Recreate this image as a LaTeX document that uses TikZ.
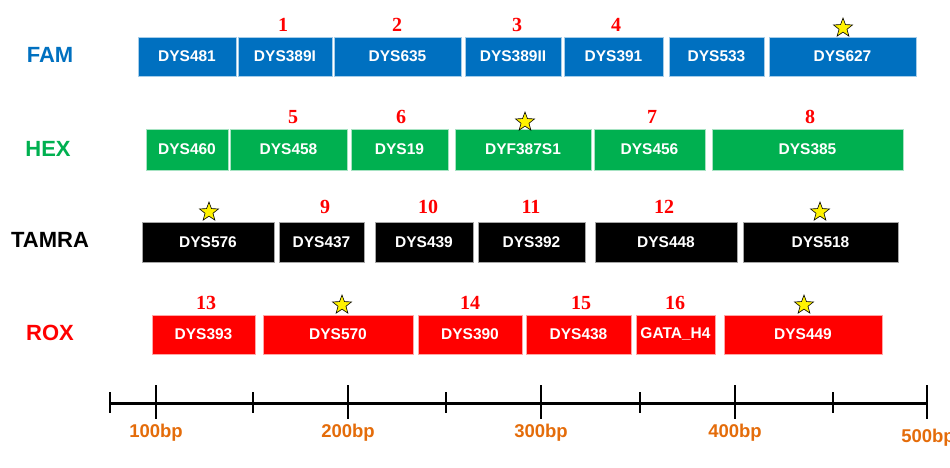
\documentclass[tikz,border=0pt]{standalone}
\usepackage{fontspec}
\setmainfont{Liberation Sans}
\newfontfamily\numfont{Liberation Serif}
\usetikzlibrary{shapes.geometric}
\definecolor{famblue}{HTML}{0070C0}
\definecolor{hexgreen}{HTML}{00B050}
\definecolor{roxred}{HTML}{FF0000}
\definecolor{bporange}{HTML}{E46C0A}
\begin{document}
\begin{tikzpicture}[x=1pt,y=-1pt]
			\tikzstyle{BOX}=[rectangle,inner sep=0pt,text=white,font=\fontsize{15.5}{18}\selectfont\bfseries,line width=0.8pt]
			\tikzstyle{FAM}=[BOX,fill=famblue,draw=famblue!35,minimum height=39pt]
			\tikzstyle{HEX}=[BOX,fill=hexgreen,draw=hexgreen!35,minimum height=41pt]
			\tikzstyle{TAM}=[BOX,fill=black,draw=black!35,minimum height=40pt]
			\tikzstyle{ROX}=[BOX,fill=roxred,draw=roxred!35,minimum height=39pt]
			\tikzstyle{DYE}=[font=\fontsize{22}{26}\selectfont\bfseries]
			\tikzstyle{NUM}=[text=roxred,font=\fontsize{20}{24}\selectfont\numfont\bfseries,inner sep=0pt]
			\tikzstyle{STAR}=[star,star points=5,star point ratio=2.4,fill=yellow,draw=black,line width=0.6pt,minimum size=20pt,inner sep=0pt]
			\tikzstyle{BP}=[text=bporange,font=\fontsize{18.5}{22}\selectfont\bfseries,inner sep=0pt]
			\useasboundingbox (0,0) rectangle (950,468);
			
			\begin{scope}
			\node[DYE,text=famblue] (fam) at (50,55) {FAM};
			\node[FAM,minimum width=98pt]  (dys481)   at (187,56.5)   {DYS481};
			\node[FAM,minimum width=94pt]  (dys389i)  at (285,56.5)   {DYS389I};
			\node[FAM,minimum width=127pt] (dys635)   at (397.5,56.5) {DYS635};
			\node[FAM,minimum width=96pt]  (dys389ii) at (513,56.5)   {DYS389II};
			\node[FAM,minimum width=99pt]  (dys391)   at (613.5,56.5) {DYS391};
			\node[FAM,minimum width=95pt]  (dys533)   at (716.5,56.5) {DYS533};
			\node[FAM,minimum width=147pt] (dys627)   at (842.5,56.5) {DYS627};
			\node[NUM] (n1) at (283,25) {1};
			\node[NUM] (n2) at (397,25) {2};
			\node[NUM] (n3) at (517,25) {3};
			\node[NUM] (n4) at (616,25) {4};
			\node[STAR] (s627) at (843,28) {};
			\end{scope}
			
			\begin{scope}
			\node[DYE,text=hexgreen] (hex) at (48,149) {HEX};
			\node[HEX,minimum width=82pt]  (dys460)   at (187,149.5)   {DYS460};
			\node[HEX,minimum width=117pt] (dys458)   at (288.5,149.5) {DYS458};
			\node[HEX,minimum width=97pt]  (dys19)    at (399.5,149.5) {DYS19};
			\node[HEX,minimum width=136pt] (dyf387s1) at (523,149.5)   {DYF387S1};
			\node[HEX,minimum width=111pt] (dys456)   at (649.5,149.5) {DYS456};
			\node[HEX,minimum width=191pt] (dys385)   at (807.5,149.5) {DYS385};
			\node[NUM] (n5) at (293,117) {5};
			\node[NUM] (n6) at (401,117) {6};
			\node[NUM] (n7) at (652,117) {7};
			\node[NUM] (n8) at (810,117) {8};
			\node[STAR] (s387) at (525,122) {};
			\end{scope}
			
			\begin{scope}
			\node[DYE,text=black] (tamra) at (50,240) {TAMRA};
			\node[TAM,minimum width=132pt] (dys576) at (208,242)   {DYS576};
			\node[TAM,minimum width=85pt]  (dys437) at (321.5,242) {DYS437};
			\node[TAM,minimum width=98pt]  (dys439) at (424,242)   {DYS439};
			\node[TAM,minimum width=107pt] (dys392) at (531.5,242) {DYS392};
			\node[TAM,minimum width=142pt] (dys448) at (666,242)   {DYS448};
			\node[TAM,minimum width=155pt] (dys518) at (820.5,242) {DYS518};
			\node[NUM] (n9)  at (325,207) {9};
			\node[NUM] (n10) at (428,207) {10};
			\node[NUM] (n11) at (531,207) {11};
			\node[NUM] (n12) at (664,207) {12};
			\node[STAR] (s576) at (209,212) {};
			\node[STAR] (s518) at (820,212) {};
			\end{scope}
			
			\begin{scope}
			\node[DYE,text=roxred] (rox) at (50,333) {ROX};
			\node[ROX,minimum width=103pt] (dys393) at (203.5,334.5) {DYS393};
			\node[ROX,minimum width=150pt] (dys570) at (338,334.5)   {DYS570};
			\node[ROX,minimum width=104pt] (dys390) at (470,334.5)   {DYS390};
			\node[ROX,minimum width=105pt] (dys438) at (578.5,334.5) {DYS438};
			\node[ROX,minimum width=79pt]  (gataH4) at (675.5,334.5) {GATA\_H4};
			\node[ROX,minimum width=158pt] (dys449) at (803,334.5)   {DYS449};
			\node[NUM] (n13) at (206,303) {13};
			\node[NUM] (n14) at (470,303) {14};
			\node[NUM] (n15) at (581,303) {15};
			\node[NUM] (n16) at (675,303) {16};
			\node[STAR] (s570) at (342,305) {};
			\node[STAR] (s449) at (804,305) {};
			\end{scope}
			
			% size axis
			\coordinate (a0) at (110,403);
			\coordinate (a5) at (927,403);
			\draw[line width=3pt] (a0) -- (a5);
			\draw[line width=2pt]
			(110,392) -- (110,413)
			(156,385) -- (156,419)
			(253,392) -- (253,413)
			(348,385) -- (348,419)
			(446,392) -- (446,413)
			(541,385) -- (541,419)
			(640,392) -- (640,413)
			(735,385) -- (735,419)
			(833,392) -- (833,413)
			(927,385) -- (927,419)
			;
			\node[BP] (bp100) at (156,433) {100bp};
			\node[BP] (bp200) at (348,433) {200bp};
			\node[BP] (bp300) at (541,433) {300bp};
			\node[BP] (bp400) at (735,433) {400bp};
			\node[BP] (bp500) at (928,438) {500bp};
		\end{tikzpicture}
\end{document}
